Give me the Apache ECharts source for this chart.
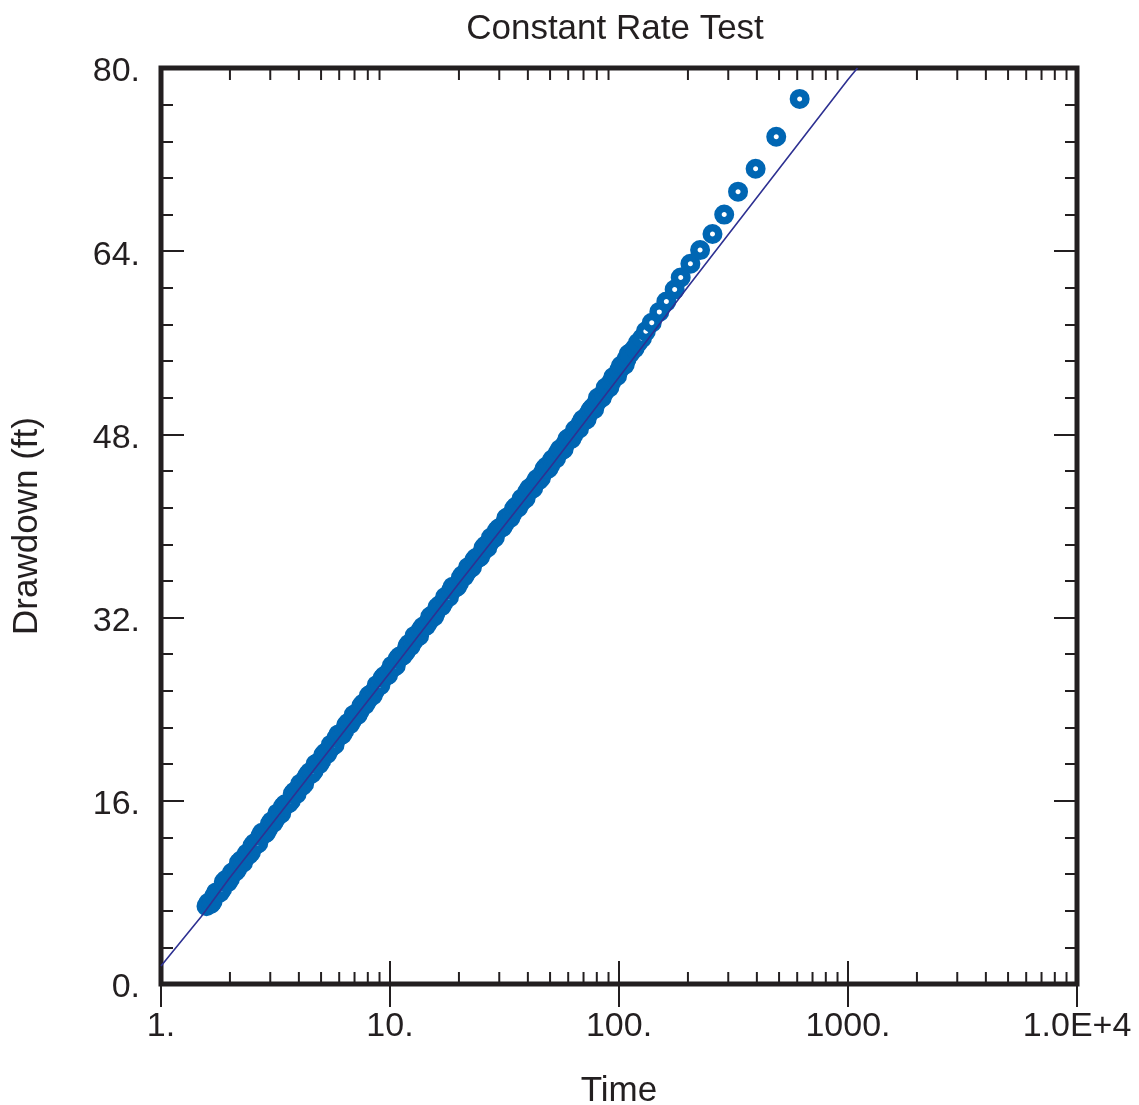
<!DOCTYPE html>
<html>
<head>
<meta charset="utf-8">
<script src="https://cdn.jsdelivr.net/npm/echarts@6/dist/echarts.min.js"></script>
<style>html,body{margin:0;padding:0;background:#fff;}#chart{width:1139px;height:1105px;}</style>
</head>
<body>
<div id="chart"></div>
<script>
// Observed drawdown data, logger record A (time, drawdown ft)
const obsTimeA = [
  1.58,1.65,1.71,1.78,1.85,1.92,2.00,2.07,2.15,2.24,2.33,2.42,2.51,2.61,2.71,2.82,2.93,3.04,3.16,3.29,3.41,3.55,3.69,3.83,3.98,
  4.14,4.30,4.47,4.64,4.82,5.01,5.21,5.41,5.62,5.84,6.07,6.31,6.56,6.81,7.08,7.36,7.64,7.94,8.25,8.58,8.91,9.26,9.62,
  10.0,10.4,10.8,11.2,11.7,12.1,12.6,13.1,13.6,14.1,14.7,15.3,15.8,16.5,17.1,17.8,18.5,19.2,20.0,20.7,21.5,22.4,23.3,24.2,25.1,
  26.1,27.1,28.2,29.3,30.4,31.6,32.9,34.1,35.5,36.9,38.3,39.8,41.4,43.0,44.7,46.4,48.2,50.1,52.1,54.1,56.2,58.4,60.7,63.1,65.6,
  68.1,70.8,73.6,76.4,79.4,82.5,85.8,89.1,92.6,96.2,
  100,104,108,112,117,121,126,131,
  139,150,161,175,186,205,226,256,288,331,395,486,615
];
const obsDrawdownA = [
  6.8,7.0,7.7,8.0,8.3,9.1,9.2,9.8,10.0,10.8,11.0,11.3,12.1,12.2,12.9,13.1,13.5,14.2,14.4,14.8,15.5,15.7,16.0,16.8,17.1,
  17.3,18.0,18.5,18.6,19.3,19.5,20.2,20.4,20.8,21.5,21.7,22.1,22.8,23.0,23.6,23.8,24.5,24.7,25.3,25.6,26.0,26.7,26.9,
  27.4,27.7,28.4,28.6,29.0,29.7,29.9,30.3,30.9,31.2,31.6,32.2,32.4,33.1,33.3,33.8,34.4,34.6,35.0,35.7,35.9,36.3,37.0,37.2,37.6,
  38.3,38.5,38.9,39.6,39.8,40.2,40.8,41.0,41.7,41.9,42.3,43.0,43.2,43.8,44.0,44.6,45.2,45.3,45.9,46.4,46.6,47.2,47.7,47.9,48.5,
  49.0,49.3,49.8,50.3,50.7,51.2,51.6,52.1,52.6,53.1,
  53.6,54.1,54.6,55.1,55.5,56.0,56.4,57.0,
  57.75,58.7,59.6,60.65,61.7,62.9,64.1,65.5,67.2,69.2,71.2,74.0,77.3
];
// Observed drawdown data, logger record B (time, drawdown ft)
const obsTimeB = [
  1.61,1.68,1.74,1.81,1.88,1.96,2.04,2.11,2.19,2.28,2.37,2.47,2.56,2.66,2.76,2.87,2.99,3.10,3.22,3.35,3.48,3.62,3.76,3.91,4.06,
  4.22,4.38,4.56,4.73,4.91,5.11,5.31,5.52,5.73,5.95,6.19,6.43,6.69,6.94,7.22,7.50,7.79,8.09,8.41,8.75,9.08,9.44,9.81,
  10.2,10.6,11.0,11.4,11.9,12.3,12.8,13.4,13.9,14.4,15.0,15.6,16.1,16.8,17.4,18.1,18.8,19.6,20.4,21.1,21.9,22.8,23.7,24.7,25.6,
  26.6,27.6,28.7,29.9,31.0,32.2,33.5,34.8,36.2,37.6,39.1,40.6,42.2,43.8,45.6,47.3,49.1,51.1,53.1,55.2,57.3,59.5,61.9,64.3,66.9,
  69.4,72.2,75.0,77.9,80.9,84.1,87.5,90.8,94.4,98.1,
  102,106,110
];
const obsDrawdownB = [
  7.1,7.2,8.0,8.0,8.9,8.9,9.7,9.8,10.6,10.6,11.4,11.5,12.3,12.3,13.2,13.2,14.0,14.1,14.9,14.9,15.7,15.8,16.6,16.6,17.5,
  17.5,18.3,18.4,19.2,19.2,20.0,20.1,20.9,20.9,21.8,21.8,22.6,22.7,23.5,23.5,24.3,24.4,25.2,25.2,26.1,26.1,26.9,27.0,
  27.8,27.8,28.6,28.7,29.5,29.5,30.4,30.4,31.2,31.3,32.1,32.1,32.9,33.0,33.8,33.8,34.7,34.7,35.5,35.6,36.4,36.4,37.2,37.3,38.1,
  38.1,39.0,39.0,39.8,39.9,40.7,40.7,41.5,41.6,42.4,42.4,43.3,43.3,44.1,44.2,45.0,45.0,45.8,45.9,46.7,46.7,47.6,47.6,48.4,48.5,
  49.3,49.3,50.1,50.2,51.2,51.2,52.1,52.1,53.0,53.1,
  54.0,54.1,55.0
];
// Fitted curve
const fitTime = [1, 1.5, 2, 3, 5, 10, 20, 50, 100, 200, 500, 1000, 1100];
const fitDrawdown = [1.57, 5.9, 9.3, 13.8, 19.5, 27.2, 35.0, 45.1, 53.0, 60.9, 71.2, 79.0, 80];
// Axis ticks
const xMajorLabels = {1: '1.', 10: '10.', 100: '100.', 1000: '1000.', 10000: '1.0E+4'};
const xMinorTicks = [2,3,4,5,6,7,8,9,20,30,40,50,60,70,80,90,200,300,400,500,600,700,800,900,2000,3000,4000,5000,6000,7000,8000,9000];
const yMin = 0, yMax = 80, yInterval = 16;

const FONT = '"Liberation Sans", Arial, Helvetica, sans-serif';
const INK = '#231f20';

const chart = echarts.init(document.getElementById('chart'), null, {renderer: 'canvas'});

const tickStyle = {color: INK, width: 2};
function xAxisDef(pos, showLabels) {
  return {
    type: 'log', logBase: 10, min: 1, max: 10000, position: pos,
    axisLine: {show: false},
    axisTick: {show: true, inside: true, length: 23, lineStyle: tickStyle},
    axisLabel: {
      show: showLabels, margin: 26, color: INK, fontSize: 34, fontFamily: FONT,
      formatter: v => xMajorLabels[Math.round(v)] || ''
    },
    splitLine: {show: false},
    name: showLabels ? 'Time' : '', nameLocation: 'middle', nameGap: 90,
    nameTextStyle: {color: INK, fontSize: 35, fontFamily: FONT}
  };
}
function yAxisDef(pos, showLabels) {
  return {
    type: 'value', min: yMin, max: yMax, interval: yInterval, position: pos,
    axisLine: {show: false},
    axisTick: {show: true, inside: true, length: 23, lineStyle: tickStyle},
    minorTick: {show: true, splitNumber: 5, length: 12, lineStyle: tickStyle},
    axisLabel: {
      show: showLabels, margin: 21, color: INK, fontSize: 34, fontFamily: FONT,
      formatter: v => '{v|' + v + '.}',
      rich: {v: {color: INK, fontSize: 34, fontFamily: FONT, padding: [8, 0, 0, 0]}}
    },
    splitLine: {show: false},
    name: showLabels ? 'Drawdown (ft)' : '', nameLocation: 'middle', nameGap: 116,
    nameTextStyle: {color: INK, fontSize: 35, fontFamily: FONT}
  };
}

const obsPoints = obsTimeA.map((t, i) => [t, obsDrawdownA[i]])
  .concat(obsTimeB.map((t, i) => [t, obsDrawdownB[i]]))
  .sort((a, b) => a[0] - b[0]);

const option = {
  animation: false,
  backgroundColor: '#fff',
  graphic: [{
    type: 'text', x: 615, y: 29, z: 10,
    style: {text: 'Constant Rate Test', fill: INK, font: '35px ' + FONT, textAlign: 'center', textVerticalAlign: 'middle'}
  }],
  grid: {
    left: 161, top: 68, width: 916, height: 916, show: true,
    borderColor: INK, borderWidth: 5, backgroundColor: 'transparent',
    containLabel: false, outerBoundsMode: 'none'
  },
  xAxis: [xAxisDef('bottom', true), xAxisDef('top', false)],
  yAxis: [yAxisDef('left', true), yAxisDef('right', false)],
  series: [
    {
      type: 'custom', name: 'xminor', silent: true, clip: false, z: 5,
      data: xMinorTicks.map(v => [v, yMin]),
      encode: {x: 0, y: 1},
      renderItem: function (params, api) {
        const x = api.coord([api.value(0), yMin])[0];
        const yb = api.coord([1, yMin])[1];
        const yt = api.coord([1, yMax])[1];
        return {
          type: 'group',
          children: [
            {type: 'line', shape: {x1: x, y1: yb, x2: x, y2: yb - 12}, style: {stroke: INK, lineWidth: 2}},
            {type: 'line', shape: {x1: x, y1: yt, x2: x, y2: yt + 12}, style: {stroke: INK, lineWidth: 2}}
          ]
        };
      }
    },
    {
      type: 'scatter', name: 'Observed', z: 2,
      data: obsPoints,
      symbol: 'circle', symbolSize: 12.5,
      itemStyle: {color: '#ffffff', borderColor: '#0066b3', borderWidth: 7.5, opacity: 1},
      emphasis: {disabled: true}
    },
    {
      type: 'line', name: 'Fit', z: 3,
      data: fitTime.map((t, i) => [t, fitDrawdown[i]]),
      showSymbol: false, symbol: 'none', clip: true,
      lineStyle: {color: '#2e3192', width: 1.6},
      emphasis: {disabled: true}
    }
  ]
};
chart.setOption(option);
</script>
</body>
</html>
